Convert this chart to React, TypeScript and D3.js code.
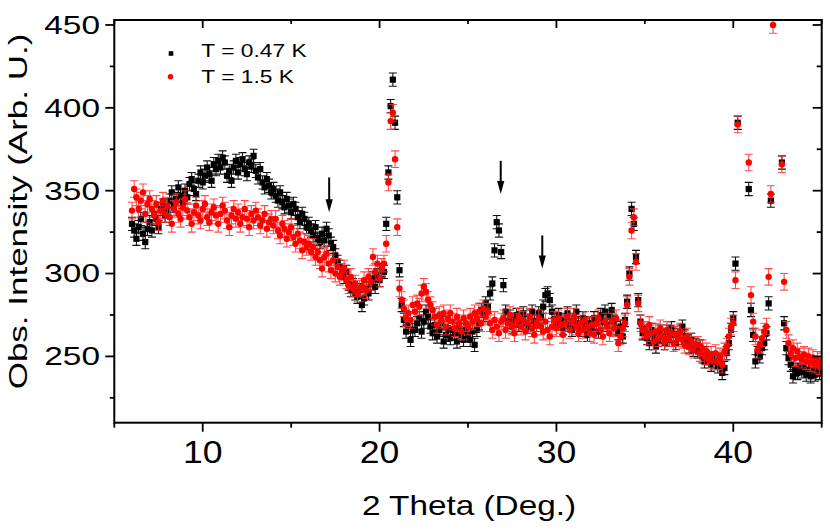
import React from "react";
import * as d3 from "d3";

// 2-theta grid of the scan (deg)
const theta0 = 6.0;
const thetaStep = 0.125;

// T = 0.47 K, one row per degree
const counts047 = [
  330, 326, 321, 328, 333, 324, 319, 327,
  331, 326, 336, 333, 328, 339, 341, 335,
  338, 344, 349, 341, 345, 352, 347, 343,
  350, 346, 354, 357, 351, 348, 356, 361,
  355, 359, 364, 360, 356, 366, 363, 368,
  364, 370, 367, 359, 362, 356, 364, 368,
  361, 366, 369, 363, 360, 367, 365, 371,
  362, 358, 363, 355, 352, 357, 353, 349,
  351, 347, 344, 349, 343, 340, 345, 341,
  337, 342, 339, 334, 331, 336, 333, 328,
  330, 326, 323, 328, 321, 319, 324, 320,
  327, 323, 318, 316, 311, 307, 304, 301,
  298, 301, 294, 290, 293, 288, 286, 290,
  281, 285, 291, 288, 294, 297, 292, 299,
  296, 302, 301, 330, 361, 401, 417, 391,
  346, 302, 281, 272, 265, 269, 260, 266,
  266, 270, 273, 265, 271, 277, 274, 268,
  264, 269, 262, 266, 270, 259, 263, 267,
  261, 266, 264, 259, 268, 263, 260, 266,
  263, 260, 265, 257, 266, 270, 278, 275,
  282, 280, 288, 294, 314, 331, 326, 313,
  293, 277, 271, 274, 268, 272, 275, 269,
  273, 276, 270, 268, 274, 277, 271, 269,
  276, 274, 280, 287, 288, 284, 277, 272,
  270, 275, 272, 267, 271, 276, 269, 266,
  272, 277, 270, 266, 273, 269, 263, 270,
  267, 273, 270, 265, 275, 271, 277, 269,
  274, 278, 271, 267, 264, 268, 262, 272,
  283, 300, 339, 330, 310, 284, 271, 264,
  265, 261, 258, 266, 262, 256, 260, 265,
  262, 258, 265, 260, 267, 263, 258, 261,
  265, 268, 262, 259, 256, 260, 254, 257,
  253, 256, 250, 247, 252, 249, 245, 249,
  247, 244, 248, 240, 243, 252, 258, 266,
  273, 306, 391, 520, 600, 560, 470, 351,
  278, 263, 247, 252, 250, 255, 258, 264,
  282, 344, 480, 560, 520, 470, 367, 270,
  255, 249, 245, 238, 242, 240, 244, 241,
  243, 239, 242, 238, 241, 239, 243, 240,
  242,
];

// T = 1.5 K
const counts15 = [
  338, 351, 346, 339, 344, 349, 336, 342,
  345, 339, 335, 342, 331, 338, 344, 336,
  341, 334, 330, 339, 343, 336, 333, 340,
  345, 338, 334, 330, 337, 341, 335, 332,
  339, 342, 334, 331, 337, 340, 335, 330,
  336, 341, 338, 332, 328, 335, 339, 333,
  337, 330, 334, 339, 333, 328, 336, 332,
  338, 334, 329, 332, 336, 327, 331, 333,
  329, 333, 326, 323, 330, 327, 321, 325,
  328, 322, 318, 324, 320, 314, 319, 316,
  318, 313, 316, 310, 313, 308, 303, 310,
  312, 306, 302, 308, 300, 304, 298, 301,
  303, 296, 293, 298, 291, 294, 288, 291,
  292, 296, 290, 298, 295, 310, 301, 306,
  297, 304, 306, 318, 355, 392, 397, 369,
  328, 291, 284, 279, 273, 276, 272, 281,
  277, 282, 280, 288, 292, 289, 284, 281,
  278, 274, 269, 275, 272, 276, 268, 273,
  276, 271, 267, 274, 270, 265, 273, 270,
  268, 274, 271, 276, 273, 277, 270, 279,
  274, 277, 270, 266, 272, 268, 264, 271,
  273, 266, 270, 275, 268, 264, 271, 274,
  268, 272, 265, 270, 274, 267, 263, 270,
  273, 268, 265, 271, 266, 262, 268, 272,
  267, 273, 269, 263, 270, 274, 266, 271,
  274, 268, 264, 270, 266, 272, 268, 264,
  269, 263, 270, 273, 266, 262, 271, 268,
  264, 271, 267, 273, 258, 262, 267, 270,
  281, 298, 326, 334, 307, 282, 270, 266,
  266, 262, 269, 264, 259, 265, 261, 267,
  262, 259, 266, 261, 264, 258, 263, 261,
  265, 260, 257, 262, 256, 259, 254, 257,
  257, 252, 255, 250, 253, 248, 251, 247,
  252, 247, 250, 245, 253, 256, 262, 268,
  270, 296, 390, 530, 610, 580, 480, 367,
  287, 271, 262, 254, 257, 261, 265, 268,
  298, 348, 450, 570, 560, 480, 366, 295,
  266, 258, 252, 255, 249, 253, 250, 248,
  251, 247, 250, 246, 249, 245, 248, 244,
  247,
];

const err047 = 4;
const err15 = 5;

// arrows marking the new peaks
const arrowTheta = [17.15, 26.85, 29.2];
const arrowFrom = [358, 368, 323];
const arrowTo = [337, 348, 303];

const xMajor = [10, 20, 30, 40];
const xMinor = [5, 15, 25, 35, 45];
const yMajor = [250, 300, 350, 400, 450];
const yMinor = [225, 275, 325, 375, 425];

const legendLabels = ["T = 0.47 K", "T = 1.5 K"];

const font = "'Liberation Sans', Arial, Helvetica, sans-serif";

function SText({ x, y, sx, size, anchor, rotate, children }: any) {
  const tf = `translate(${x},${y})${rotate ? ` rotate(${rotate})` : ""} scale(${sx},1)`;
  return (
    <text transform={tf} fontSize={size} textAnchor={anchor} fontFamily={font} fill="#000">
      {children}
    </text>
  );
}

export default function App() {
  const W = 830, H = 529;
  const left = 114.3, right = 821.7, top = 20, bottom = 422.7;

  const x = d3.scaleLinear().domain([5, 45]).range([left, right]);
  const y = d3.scaleLinear().domain([210, 453]).range([bottom, top]);

  const black = counts047.map((v, i) => ({ t: theta0 + i * thetaStep, v }));
  const red = counts15.map((v, i) => ({ t: theta0 + i * thetaStep, v }));

  const barPath = (pts: { t: number; v: number }[], e: number) => {
    const cap = 4;
    return pts
      .map(d => {
        const px = x(d.t), y1 = y(d.v + e), y2 = y(d.v - e);
        return `M${px - cap},${y1}H${px + cap}M${px},${y1}V${y2}M${px - cap},${y2}H${px + cap}`;
      })
      .join("");
  };

  return (
    <svg width={W} height={H} style={{ position: "absolute", left: 0, top: 0, background: "#fff" }}>
      <defs>
        <clipPath id="plotClip">
          <rect x={left} y={top} width={right - left} height={bottom - top} />
        </clipPath>
      </defs>

      <g clipPath="url(#plotClip)">
        <path d={barPath(black, err047)} stroke="#111" strokeWidth={1.1} fill="none" />
        {black.map((d, i) => (
          <rect key={"b" + i} x={x(d.t) - 3.1} y={y(d.v) - 3.1} width={6.2} height={6.2} fill="#000" />
        ))}
        <path d={barPath(red, err15)} stroke="#ff2a2a" strokeOpacity={0.85} strokeWidth={1.1} fill="none" />
        {red.map((d, i) => (
          <circle key={"r" + i} cx={x(d.t)} cy={y(d.v)} r={3.2} fill="#ff0000" />
        ))}
      </g>

      {/* arrows */}
      {arrowTheta.map((t, i) => {
        const px = x(t), y0 = y(arrowFrom[i]), y1 = y(arrowTo[i]);
        return (
          <g key={"a" + i}>
            <line x1={px} x2={px} y1={y0} y2={y1 - 10} stroke="#000" strokeWidth={2} />
            <path d={`M${px - 3.6},${y1 - 13}L${px + 3.6},${y1 - 13}L${px},${y1}Z`} fill="#000" />
          </g>
        );
      })}

      {/* frame */}
      <rect x={left} y={top} width={right - left} height={bottom - top} fill="none" stroke="#000" strokeWidth={2} />

      {/* ticks */}
      <g stroke="#000" strokeWidth={1.8}>
        {xMajor.map(v => (
          <g key={"xM" + v}>
            <line x1={x(v)} x2={x(v)} y1={bottom} y2={bottom + 9} />
            <line x1={x(v)} x2={x(v)} y1={top} y2={top + 8} />
          </g>
        ))}
        {xMinor.map(v => (
          <g key={"xm" + v}>
            <line x1={x(v)} x2={x(v)} y1={bottom} y2={bottom + 5} />
            <line x1={x(v)} x2={x(v)} y1={top} y2={top + 4} />
          </g>
        ))}
        {yMajor.map(v => (
          <g key={"yM" + v}>
            <line x1={left - 9} x2={left} y1={y(v)} y2={y(v)} />
            <line x1={right - 9} x2={right} y1={y(v)} y2={y(v)} />
          </g>
        ))}
        {yMinor.map(v => (
          <g key={"ym" + v}>
            <line x1={left - 4.5} x2={left} y1={y(v)} y2={y(v)} />
            <line x1={right - 5} x2={right} y1={y(v)} y2={y(v)} />
          </g>
        ))}
      </g>

      {/* tick labels */}
      {xMajor.map(v => (
        <SText key={"xl" + v} x={x(v)} y={463.3} sx={1.13} size={31.5} anchor="middle">
          {v}
        </SText>
      ))}
      {yMajor.map(v => (
        <SText key={"yl" + v} x={100} y={y(v) + 8.9} sx={1.31} size={25.5} anchor="end">
          {v}
        </SText>
      ))}

      {/* axis titles */}
      <SText x={469} y={515} sx={1.19} size={28} anchor="middle">
        2 Theta (Deg.)
      </SText>
      <SText x={26.5} y={211.5} sx={1.32} size={26.5} anchor="middle" rotate={-90}>
        Obs. Intensity (Arb. U.)
      </SText>

      {/* legend */}
      <rect x={171 - 2.3} y={53.5 - 2.3} width={4.6} height={4.6} fill="#000" />
      <circle cx={170.5} cy={76.7} r={2.7} fill="#ff0000" />
      <SText x={201.3} y={56.7} sx={1.2} size={19} anchor="start">
        {legendLabels[0]}
      </SText>
      <SText x={201.3} y={83.3} sx={1.2} size={19} anchor="start">
        {legendLabels[1]}
      </SText>
    </svg>
  );
}
